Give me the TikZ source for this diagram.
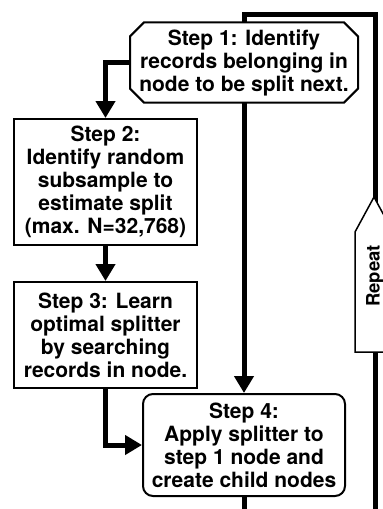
\documentclass[tikz,border=0pt]{standalone}
\usepackage{fontspec}
\setmainfont{TeX Gyre Heros}
\usetikzlibrary{arrows.meta,positioning,shapes.misc,backgrounds}

\begin{document}
\begin{tikzpicture}[
  x=1pt, y=-1pt,
  font=\fontsize{21}{23}\selectfont\bfseries,
  >={Triangle[length=17pt, width=19pt]},
  box/.style={draw, line width=2pt, fill=white, align=center, inner sep=0pt,
              minimum width=183pt},
  cutbox/.style={box, chamfered rectangle, chamfered rectangle xsep=7pt,
                 chamfered rectangle ysep=7pt, minimum width=228pt, minimum height=79pt},
  roundbox/.style={box, rounded corners=10pt, minimum width=202pt, minimum height=102pt},
  flow/.style={line width=5pt},
  tag/.style={font=\fontsize{18.5}{21}\selectfont\bfseries, rotate=90}]
\useasboundingbox (0,0) rectangle (383,509);
\node[cutbox] (s1) at (244,62.5) {Step 1: Identify\\records belonging in\\node to be split next.};
\node[box, minimum height=126pt] (s2) at (105.5,182) {Step 2:\\Identify random\\subsample to\\estimate split\\(max. N=32,768)};
\node[box, minimum height=106pt, below=35pt of s2] (s3) {Step 3: Learn\\optimal splitter\\by searching\\records in node.};
\node[roundbox] (s4) at (244,445) {Step 4:\\Apply splitter to\\step 1 node and\\create child nodes};
% repeat arrow on the return line
\draw[line width=1.5pt, fill=white] (355,352) -- (355,232) -- (374,197) -- (393,232) -- (393,352) -- cycle;
\node[tag] (rep) at (375,276) {Repeat};
\draw[flow, ->] (s1.west) -| (s2.north);
\draw[flow, ->] (s2) -- (s3);
\draw[flow, ->] (s3.south) |- (s4.west);
\begin{scope}[on background layer]
  \coordinate (tl) at (244,14);
  \coordinate (tr) at (375,14);
  \coordinate (br) at (375,512);
  \coordinate (bl) at (244,512);
  \draw[flow, ->] (br) -- (tr) -- (tl) -- (s4.north);
  \draw[flow] (s4.south) -- (bl);
\end{scope}
\end{tikzpicture}
\end{document}
